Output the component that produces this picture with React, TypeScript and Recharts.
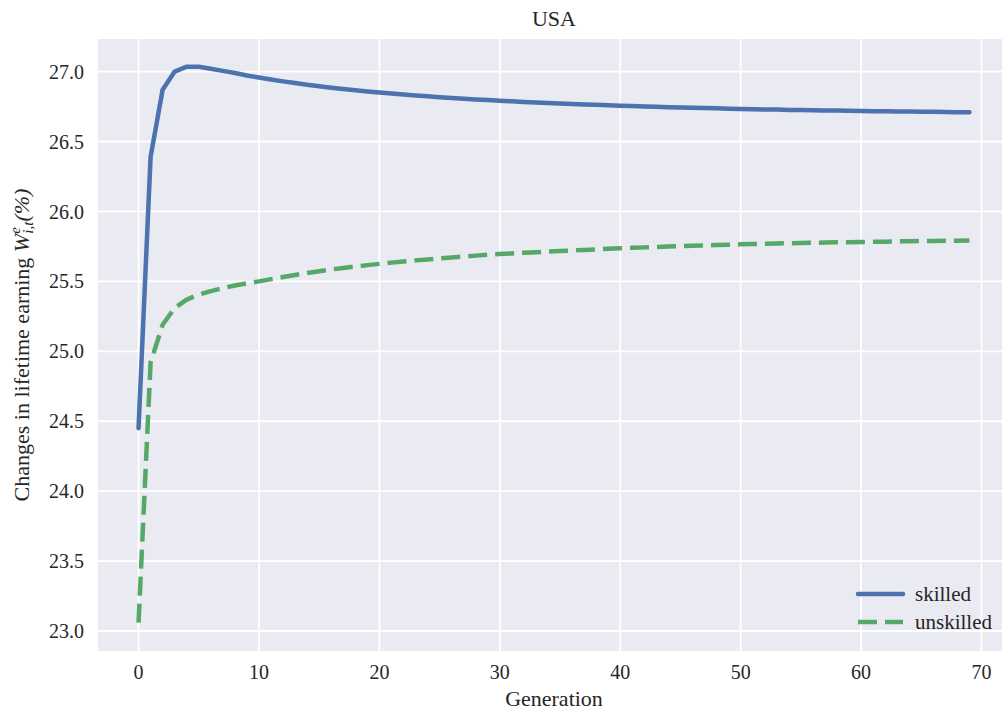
import React from 'react';
import { LineChart, Line, XAxis, YAxis, CartesianGrid, Legend, Customized } from 'recharts';

const skilled = [
  24.45, 26.39, 26.87, 27.0, 27.035, 27.035, 27.02, 27.005, 26.99, 26.972,
  26.957, 26.943, 26.93, 26.918, 26.906, 26.895, 26.885, 26.875, 26.866, 26.858,
  26.85, 26.843, 26.836, 26.829, 26.823, 26.817, 26.811, 26.806, 26.801, 26.796,
  26.791, 26.787, 26.783, 26.779, 26.775, 26.771, 26.768, 26.765, 26.762, 26.759,
  26.756, 26.753, 26.75, 26.748, 26.745, 26.743, 26.741, 26.739, 26.737, 26.735,
  26.733, 26.731, 26.729, 26.728, 26.726, 26.725, 26.723, 26.722, 26.721, 26.719,
  26.718, 26.717, 26.716, 26.715, 26.714, 26.713, 26.712, 26.711, 26.71, 26.709,
];

const unskilled = [
  23.06, 24.92, 25.19, 25.31, 25.37, 25.405, 25.43, 25.452, 25.47, 25.486,
  25.5, 25.516, 25.531, 25.546, 25.56, 25.573, 25.585, 25.596, 25.606, 25.616,
  25.625, 25.634, 25.642, 25.65, 25.657, 25.664, 25.671, 25.677, 25.684, 25.69,
  25.695, 25.7, 25.705, 25.709, 25.713, 25.717, 25.721, 25.725, 25.729, 25.733,
  25.737, 25.74, 25.743, 25.746, 25.749, 25.752, 25.755, 25.757, 25.76, 25.762,
  25.765, 25.767, 25.769, 25.771, 25.773, 25.774, 25.776, 25.777, 25.779, 25.78,
  25.782, 25.783, 25.784, 25.786, 25.787, 25.788, 25.789, 25.79, 25.791, 25.792,
];

const xTicks = [0, 10, 20, 30, 40, 50, 60, 70];
const yTicks = [23.0, 23.5, 24.0, 24.5, 25.0, 25.5, 26.0, 26.5, 27.0];

const data = skilled.map((v, i) => ({ gen: i, skilled: v, unskilled: unskilled[i] }));

const FONT = '"Liberation Serif", "DejaVu Serif", serif';
const TXT = '#262626';
const BLUE = '#4C72B0';
const GREEN = '#55A868';

const XTick = (props: any) => {
  const { x, y, payload } = props;
  return (
    <text x={x} y={y} dy="0.71em" textAnchor="middle" fontFamily={FONT} fontSize={20} fill={TXT}>
      {payload.value}
    </text>
  );
};

const YTick = (props: any) => {
  const { x, y, payload } = props;
  return (
    <text x={x} y={y} dy="0.355em" textAnchor="end" fontFamily={FONT} fontSize={20} fill={TXT}>
      {Number(payload.value).toFixed(1)}
    </text>
  );
};

const LegendBox = () => (
  <svg width={160} height={60} style={{ display: 'block', overflow: 'visible' }}>
    <line x1={8} y1={16} x2={53} y2={16} stroke={BLUE} strokeWidth={4.5} strokeLinecap="round" />
    <text x={65} y={23} fontFamily={FONT} fontSize={21} fill={TXT}>skilled</text>
    <line x1={8} y1={44} x2={53} y2={44} stroke={GREEN} strokeWidth={4.5} strokeDasharray="19 8" />
    <text x={65} y={51} fontFamily={FONT} fontSize={21} fill={TXT}>unskilled</text>
  </svg>
);

const YLabel = () => (
  <text
    transform="rotate(-90, 29, 345)"
    x={29}
    y={345}
    textAnchor="middle"
    fontFamily={FONT}
    fontSize={22}
    fill={TXT}
  >
    <tspan>Changes in lifetime earning </tspan>
    <tspan fontStyle="italic">W</tspan>
    <tspan fontStyle="italic" fontSize={15} dy={-9}>e</tspan>
    <tspan fontStyle="italic" fontSize={15} dx={-6.5} dy={13}>i,t</tspan>
    <tspan fontStyle="italic" dy={-4}>(%)</tspan>
  </text>
);

const Title = () => (
  <text x={554} y={26} textAnchor="middle" fontFamily={FONT} fontSize={22} fill={TXT}>
    USA
  </text>
);

export default function App() {
  return (
    <div style={{ position: 'absolute', left: 0, top: 0, width: 1002, height: 717, overflow: 'hidden', background: '#fff' }}>
      <LineChart
        width={1011}
        height={717}
        data={data}
        margin={{ top: 38, right: 0, bottom: 0, left: 37 }}
      >
        <CartesianGrid fill="#EAEAF2" stroke="#FFFFFF" strokeWidth={1.8} />
        <XAxis
          dataKey="gen"
          type="number"
          domain={[-3.45, 72.45]}
          ticks={xTicks}
          allowDataOverflow
          height={65}
          axisLine={false}
          tickLine={false}
          tickSize={0}
          tickMargin={13}
          tick={<XTick />}
          label={{
            content: (props: any) => {
              const vb = props.viewBox || { x: 97, y: 652, width: 914 };
              return (
                <text x={vb.x + vb.width / 2} y={vb.y + 54} textAnchor="middle" fontFamily={FONT} fontSize={22} fill={TXT}>
                  Generation
                </text>
              );
            },
          }}
        />
        <YAxis
          type="number"
          domain={[22.85, 27.24]}
          ticks={yTicks}
          allowDataOverflow
          width={60}
          axisLine={false}
          tickLine={false}
          tickSize={0}
          tickMargin={13}
          tick={<YTick />}
        />
        <Line
          type="linear"
          dataKey="skilled"
          stroke={BLUE}
          strokeWidth={4.5}
          dot={false}
          activeDot={false}
          strokeLinecap="round"
          strokeLinejoin="round"
          isAnimationActive={false}
        />
        <Line
          type="linear"
          dataKey="unskilled"
          stroke={GREEN}
          strokeWidth={4.5}
          strokeDasharray="19 8"
          dot={false}
          activeDot={false}
          strokeLinejoin="round"
          isAnimationActive={false}
        />
        <Legend
          layout="horizontal"
          verticalAlign="middle"
          align="center"
          content={() => <LegendBox />}
          wrapperStyle={{ position: 'absolute', left: 850, top: 578, width: 160, height: 60 }}
        />
        <Customized component={() => <g><Title /><YLabel /></g>} />
      </LineChart>
    </div>
  );
}
